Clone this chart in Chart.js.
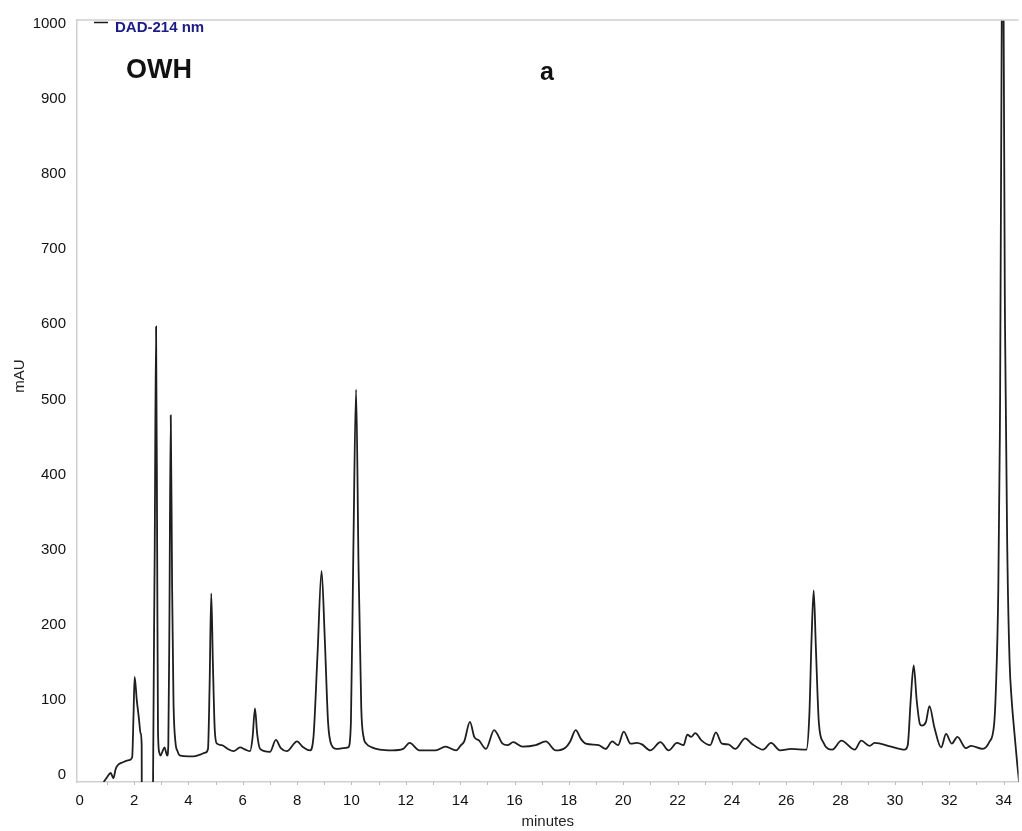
<!DOCTYPE html>
<html>
<head>
<meta charset="utf-8">
<title>OWH chromatogram</title>
<script src="https://cdn.jsdelivr.net/npm/chart.js@4.4.1/dist/chart.umd.min.js"></script>
<style>
  html, body { margin: 0; padding: 0; background: #ffffff; }
  #wrap { position: relative; width: 1022px; height: 831px; }
</style>
</head>
<body>
<div id="wrap"><canvas id="chrom" width="1022" height="831"></canvas></div>
<script>
// Retention time (min) and detector response (mAU) of the DAD-214 nm trace
const retentionTimes = [
  0.88, 1.00, 1.14, 1.24, 1.32, 1.39, 1.57, 1.81, 1.93, 1.98, 2.02, 2.10, 2.18, 2.24, 2.28,
  2.29, 2.68, 2.70, 2.76, 2.81, 2.85, 2.88, 2.93, 2.97, 3.05, 3.12, 3.22, 3.26, 3.30, 3.35,
  3.40, 3.45, 3.52, 3.60, 3.70, 4.00, 4.19, 4.40, 4.62, 4.72, 4.78, 4.84, 4.90, 4.97, 5.05,
  5.23, 5.45, 5.66, 5.90, 6.10, 6.27, 6.36, 6.45, 6.53, 6.64, 7.00, 7.22, 7.40, 7.62, 8.00,
  8.20, 8.47, 8.60, 8.75, 8.90, 9.02, 9.14, 9.27, 9.45, 9.70, 9.88, 9.98, 10.07, 10.17, 10.26,
  10.36, 10.45, 10.55, 10.75, 11.04, 11.50, 11.90, 12.14, 12.50, 13.10, 13.46, 13.85, 14.03, 14.15, 14.36,
  14.52, 14.70, 14.95, 15.25, 15.56, 15.74, 15.95, 16.30, 16.78, 17.15, 17.52, 17.88, 18.05, 18.25, 18.45,
  18.62, 19.10, 19.35, 19.60, 19.81, 20.02, 20.27, 20.50, 20.69, 21.00, 21.37, 21.67, 21.98, 22.22, 22.36,
  22.50, 22.65, 22.89, 23.20, 23.41, 23.63, 23.87, 24.12, 24.49, 24.73, 25.15, 25.44, 25.77, 26.19, 26.74,
  26.85, 26.93, 27.01, 27.09, 27.20, 27.36, 27.69, 28.03, 28.52, 28.76, 29.07, 29.25, 29.86, 30.35, 30.47,
  30.58, 30.69, 30.80, 30.92, 30.99, 31.14, 31.27, 31.45, 31.70, 31.88, 32.09, 32.30, 32.61, 32.80, 33.23,
  33.47, 33.65, 33.72, 33.80, 33.86, 33.93, 33.965, 34.00, 34.05, 34.14, 34.22, 34.29, 34.40, 34.50, 34.60
];
const absorbance = [
  -9, -3, 3, -4, 8, 13, 17, 20, 24, 80, 131, 100, 75, 56, 40,
  -200, -200, 0, 300, 597, 300, 60, 30, 26, 32, 37, 26, 40, 200, 479,
  250, 100, 45, 32, 26, 25, 25, 27, 30, 35, 120, 242, 150, 60, 42,
  40, 35, 32, 37, 34, 32, 50, 89, 55, 35, 31, 47, 36, 32, 45,
  38, 33, 50, 160, 272, 180, 70, 40, 35, 36, 37, 70, 300, 513, 280,
  90, 50, 42, 37, 34, 33, 35, 43, 33, 33, 38, 33, 40, 45, 71,
  51, 46, 35, 60, 42, 40, 44, 38, 40, 45, 33, 37, 45, 60, 48,
  42, 40, 35, 45, 40, 58, 42, 43, 41, 33, 44, 33, 43, 40, 54,
  51, 56, 46, 40, 57, 42, 41, 35, 49, 42, 34, 43, 33, 35, 34,
  80, 180, 246, 170, 70, 44, 34, 46, 34, 46, 39, 43, 38, 34, 40,
  100, 146, 100, 68, 66, 71, 92, 64, 37, 55, 42, 51, 36, 39, 35,
  44, 68, 120, 240, 450, 1000, 1700, 1000, 600, 285, 150, 103, 55, 15, -20
];

// Axis tick labels
const timeTicks = [0, 2, 4, 6, 8, 10, 12, 14, 16, 18, 20, 22, 24, 26, 28, 30, 32, 34];
const mauTicks = [0, 100, 200, 300, 400, 500, 600, 700, 800, 900, 1000];

const traceName = 'DAD-214 nm';
const sampleName = 'OWH';
const panelLabel = 'a';
const yAxisTitle = 'mAU';
const xAxisTitle = 'minutes';

const FONT = '"Liberation Sans", Arial, Helvetica, sans-serif';
const AXIS_GREY = '#cfcfcf';

const points = retentionTimes.map((t, i) => ({ x: t, y: absorbance[i] }));

// Annotations: legend swatch, sample name, panel letter, y title, minor ticks, top frame
const annotations = {
  id: 'annotations',
  afterDraw(chart) {
    const { ctx, chartArea, scales } = chart;
    ctx.save();
    // top frame line
    ctx.strokeStyle = AXIS_GREY;
    ctx.lineWidth = 1.5;
    ctx.beginPath();
    ctx.moveTo(chartArea.left, chartArea.top);
    ctx.lineTo(chartArea.right, chartArea.top);
    ctx.stroke();
    // minor ticks on the time axis, one per minute
    ctx.lineWidth = 1;
    ctx.strokeStyle = '#bdbdbd';
    for (let m = 1; m <= 34; m++) {
      const px = Math.round(scales.x.getPixelForValue(m)) + 0.5;
      ctx.beginPath();
      ctx.moveTo(px, chartArea.bottom);
      ctx.lineTo(px, chartArea.bottom + 3);
      ctx.stroke();
    }
    // y axis title
    ctx.save();
    ctx.translate(20, 376);
    ctx.rotate(-Math.PI / 2);
    ctx.fillStyle = '#222222';
    ctx.font = '15px ' + FONT;
    ctx.textAlign = 'center';
    ctx.textBaseline = 'middle';
    ctx.fillText(yAxisTitle, 0, 0);
    ctx.restore();
    // legend entry
    ctx.strokeStyle = '#1a1a1a';
    ctx.lineWidth = 1.5;
    ctx.beginPath();
    ctx.moveTo(94, 22.5);
    ctx.lineTo(108, 22.5);
    ctx.stroke();
    ctx.fillStyle = '#1c1c86';
    ctx.font = 'bold 15px ' + FONT;
    ctx.textBaseline = 'middle';
    ctx.textAlign = 'left';
    ctx.fillText(traceName, 115, 28);
    // sample name and panel letter
    ctx.fillStyle = '#111111';
    ctx.font = 'bold 27px ' + FONT;
    ctx.textBaseline = 'alphabetic';
    ctx.fillText(sampleName, 126, 78);
    ctx.textAlign = 'center';
    ctx.font = 'bold 25px ' + FONT;
    ctx.fillText(panelLabel, 547, 80);
    ctx.restore();
  }
};

new Chart(document.getElementById('chrom'), {
  type: 'line',
  data: {
    datasets: [{
      label: traceName,
      data: points,
      borderColor: '#1e1e1e',
      borderWidth: 1.8,
      pointRadius: 0,
      fill: false,
      cubicInterpolationMode: 'monotone'
    }]
  },
  options: {
    responsive: false,
    animation: false,
    events: [],
    layout: { padding: { top: 16, right: 1, left: 0, bottom: 0 } },
    plugins: {
      legend: { display: false },
      tooltip: { enabled: false }
    },
    scales: {
      x: {
        type: 'linear',
        min: -0.1,
        max: 34.55,
        afterBuildTicks: (scale) => { scale.ticks = timeTicks.map(v => ({ value: v })); },
        afterFit: (scale) => { scale.height = 49; },
        grid: { display: false, drawTicks: false },
        border: { display: true, color: AXIS_GREY, width: 1.5 },
        ticks: {
          color: '#111111',
          font: { family: FONT, size: 15 },
          padding: 10,
          maxRotation: 0,
          autoSkip: false,
          callback: (v) => String(v)
        },
        title: {
          display: true,
          text: xAxisTitle,
          color: '#222222',
          font: { family: FONT, size: 15 },
          padding: { top: 0, bottom: 0 }
        }
      },
      y: {
        type: 'linear',
        min: -9,
        max: 1005,
        afterBuildTicks: (scale) => { scale.ticks = mauTicks.map(v => ({ value: v })); },
        afterFit: (scale) => { scale.width = 77; },
        grid: { display: false, drawTicks: false },
        border: { display: true, color: AXIS_GREY, width: 1.5 },
        ticks: {
          color: '#111111',
          font: { family: FONT, size: 15 },
          padding: 11,
          autoSkip: false,
          callback: (v) => String(v)
        }
      }
    }
  },
  plugins: [annotations]
});
</script>
</body>
</html>
